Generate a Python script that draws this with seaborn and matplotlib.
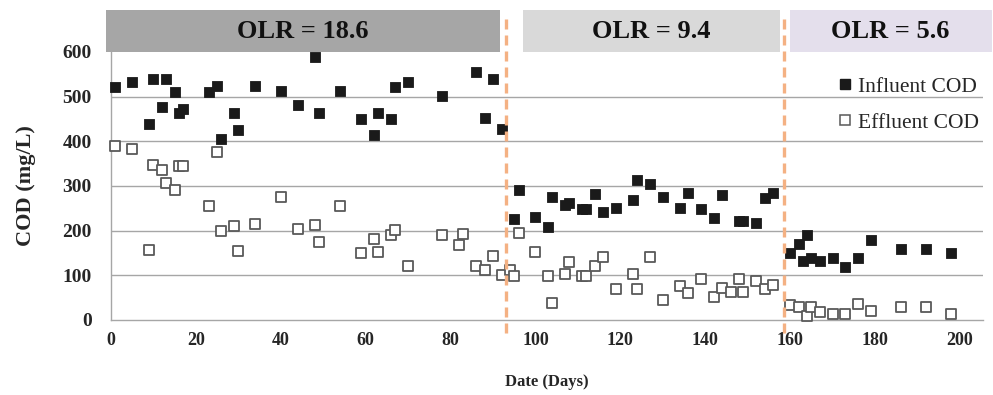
import pandas as pd
import seaborn as sns
import matplotlib.pyplot as plt
import matplotlib.transforms as mtransforms
from matplotlib.lines import Line2D

# influent COD (mg/L) by day
influent_day = [1, 5, 9, 10, 12, 13, 15, 16, 17, 23, 25, 26, 29, 30, 34, 40,
                44, 48, 49, 54, 59, 62, 63, 66, 67, 70, 78, 86, 88, 90, 92,
                95, 96, 100, 103, 104, 107, 108, 111, 112, 114, 116, 119, 123,
                124, 127, 130, 134, 136, 139, 142, 144, 148, 149, 152, 154,
                156, 160, 162, 163, 164, 165, 167, 170, 173, 176, 179, 186,
                192, 198]
influent_cod = [522, 533, 438, 539, 476, 539, 511, 464, 473, 511, 524, 405,
                463, 425, 524, 512, 481, 589, 464, 512, 451, 414, 463, 449,
                522, 532, 501, 555, 453, 539, 427, 225, 291, 230, 208, 276,
                257, 261, 249, 249, 281, 242, 250, 268, 314, 304, 275, 251,
                284, 248, 229, 280, 222, 222, 218, 274, 284, 151, 170, 131,
                190, 138, 133, 138, 119, 138, 179, 160, 160, 151]

# effluent COD (mg/L) by day
effluent_day = [1, 5, 9, 10, 12, 13, 15, 16, 17, 23, 25, 26, 29, 30, 34, 40,
                44, 48, 49, 54, 59, 62, 63, 66, 67, 70, 78, 82, 83, 86, 88,
                90, 92, 94, 95, 96, 100, 103, 104, 107, 108, 111, 112, 114,
                116, 119, 123, 124, 127, 130, 134, 136, 139, 142, 144, 146,
                148, 149, 152, 154, 156, 160, 162, 164, 165, 167, 170, 173,
                176, 179, 186, 192, 198]
effluent_cod = [390, 383, 157, 347, 336, 307, 291, 345, 345, 255, 376, 199,
                210, 154, 214, 276, 203, 212, 174, 255, 151, 182, 152, 190,
                201, 120, 190, 167, 192, 120, 113, 143, 101, 112, 99, 194,
                153, 98, 37, 104, 130, 98, 98, 120, 140, 70, 104, 70, 142,
                45, 75, 60, 91, 52, 72, 63, 91, 63, 87, 70, 79, 34, 28, 8,
                28, 19, 13, 13, 36, 21, 28, 30, 13]

# loading phases
phase_labels = ['OLR = 18.6', 'OLR = 9.4', 'OLR = 5.6']
phase_start = [-1.2, 97, 160]
phase_end = [91.6, 157.6, 207.5]
phase_colors = ['#a6a6a6', '#d9d9d9', '#e4dfec']
phase_breaks = [93, 158.5]

sns.set_style('white')
plt.rcParams['font.family'] = ['Liberation Serif', 'DejaVu Serif']

inf = pd.DataFrame({'day': influent_day, 'cod': influent_cod})
eff = pd.DataFrame({'day': effluent_day, 'cod': effluent_cod})

fig = plt.figure(figsize=(9.93, 3.95), dpi=100)
ax = fig.add_axes([0.1118, 0.1899, 0.878, 0.6785])

for y in range(100, 600, 100):
    ax.axhline(y, color='#a6a6a6', lw=1, zorder=0)

sns.scatterplot(data=inf, x='day', y='cod', ax=ax, marker='s', s=55,
                color='#1a1a1a', edgecolor='#1a1a1a', linewidth=0.6,
                clip_on=False, zorder=3)
sns.scatterplot(data=eff, x='day', y='cod', ax=ax, marker='s', s=48,
                facecolor='white', edgecolor='#595959', linewidth=1.3,
                clip_on=False, zorder=3)

ax.set_xlim(0, 205.4)
ax.set_ylim(0, 600)
ax.set_xticks(range(0, 201, 20))
ax.set_yticks(range(0, 601, 100))

trans = mtransforms.blended_transform_factory(ax.transData, ax.transAxes)
for x0, x1, c, lab in zip(phase_start, phase_end, phase_colors, phase_labels):
    ax.add_patch(plt.Rectangle((x0, 1.0), x1 - x0, 0.157, transform=trans,
                               facecolor=c, edgecolor='none', clip_on=False))
    ax.text((x0 + x1) / 2 if x1 < 200 else 183.5, 1.078, lab,
            transform=trans, ha='center', va='center', fontsize=19,
            fontweight='bold', color='#111111')

for xb in phase_breaks:
    ax.plot([xb, xb], [-0.05, 1.145], transform=trans, color='#f4b183',
            lw=2.4, dashes=(3, 1.8), clip_on=False, zorder=4)

for side in ['top', 'right']:
    ax.spines[side].set_visible(False)
for side in ['left', 'bottom']:
    ax.spines[side].set_color('#a6a6a6')
    ax.spines[side].set_linewidth(1)

ax.tick_params(axis='both', which='major', length=3, color='#a6a6a6',
               width=1, direction='out')
ax.tick_params(axis='x', labelsize=13, pad=6)
ax.tick_params(axis='y', labelsize=14, pad=11)
for lab in ax.get_xticklabels() + ax.get_yticklabels():
    lab.set_fontweight('bold')

ax.set_xlabel('Date (Days)', fontsize=12, fontweight='bold', labelpad=18)
ax.set_ylabel('COD (mg/L)', fontsize=16, fontweight='bold', labelpad=19)

handles = [Line2D([], [], ls='none', marker='s', ms=7, color='#1a1a1a'),
           Line2D([], [], ls='none', marker='s', ms=7, mfc='white',
                  mec='#595959', mew=1.1)]
ax.legend(handles, ['Influent COD', 'Effluent COD'], loc='upper right',
          bbox_to_anchor=(1.005, 0.94), frameon=False, fontsize=15.5,
          handlelength=0.6, handletextpad=0.3, labelspacing=0.75,
          borderaxespad=0)

fig.savefig('out.png', dpi=100)
